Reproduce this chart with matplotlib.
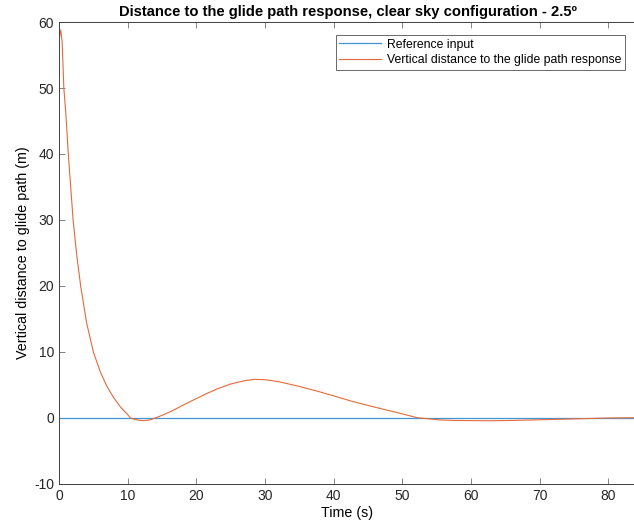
import matplotlib.pyplot as plt
import numpy as np

plt.rcParams["font.family"] = ["Liberation Sans", "DejaVu Sans"]
plt.rcParams["axes.unicode_minus"] = False

# values
time_s = [0, 0.25, 0.45, 0.7, 1.0, 1.35, 1.7, 2.05, 2.6, 3.15, 4.0, 5.0, 6.0,
          7.0, 8.0, 9.0, 10.0, 10.4, 11.0, 11.5, 12.3, 13.2, 14.0, 15.0, 16.5,
          18.1, 20.0, 21.5, 23.0, 25.0, 27.0, 28.5, 30.0, 32.0, 35.1, 38.0,
          40.0, 42.4, 44.8, 47.3, 49.7, 52.1, 55.5, 58.0, 62.6, 66.0, 70.0,
          73.3, 77.0, 80.0, 84.0]
response_m = [57.3, 58.8, 57.0, 50.0, 46.0, 40.0, 35.0, 30.0, 24.5, 20.0, 14.5,
              10.0, 7.0, 4.74, 3.0, 1.6, 0.5, 0.0, -0.2, -0.32, -0.4, -0.3, 0.0,
              0.4, 1.1, 1.97, 2.95, 3.7, 4.4, 5.15, 5.65, 5.86, 5.8, 5.5, 4.75,
              3.95, 3.35, 2.6, 1.95, 1.3, 0.7, 0.05, -0.3, -0.38, -0.42, -0.37,
              -0.27, -0.18, -0.08, 0.0, 0.04]
reference_t = [0, 84.0]
reference_m = [0, 0]

fig = plt.figure(figsize=(6.34, 5.29), dpi=100)
ax = fig.add_axes([0.0931, 0.0851, 0.910, 0.8733])

ax.plot(reference_t, reference_m, color="#3E96D4", lw=0.9, label="Reference input")
ax.plot(time_s, response_m, color="#E46A3A", lw=0.8,
        label="Vertical distance to the glide path response")

ax.set_xlim(0, 84.0)
ax.set_ylim(-10, 60)
ax.set_xticks(np.arange(0, 81, 10))
ax.set_yticks(np.arange(-10, 61, 10))

edge = "#404040"
for s in ax.spines.values():
    s.set_color(edge)
    s.set_linewidth(0.7)
ax.tick_params(direction="in", top=True, right=False, length=4, width=0.6,
               color="#707070", labelcolor="#262626", labelsize=10)

ax.set_title("Distance to the glide path response, clear sky configuration - 2.5º",
             fontsize=10.6, fontweight="bold", pad=4)
ax.set_xlabel("Time (s)", fontsize=10.3, labelpad=2)
ax.set_ylabel("Vertical distance to glide path (m)", fontsize=10.3, labelpad=3)

leg = ax.legend(loc="upper right", fontsize=8.8, fancybox=False, framealpha=1,
                edgecolor="#505050", borderpad=0.3, labelspacing=0.3,
                handlelength=3.4, handletextpad=0.5, borderaxespad=0,
                bbox_to_anchor=(0.981, 0.972))
leg.get_frame().set_linewidth(0.6)

fig.savefig("out.png", dpi=100)
